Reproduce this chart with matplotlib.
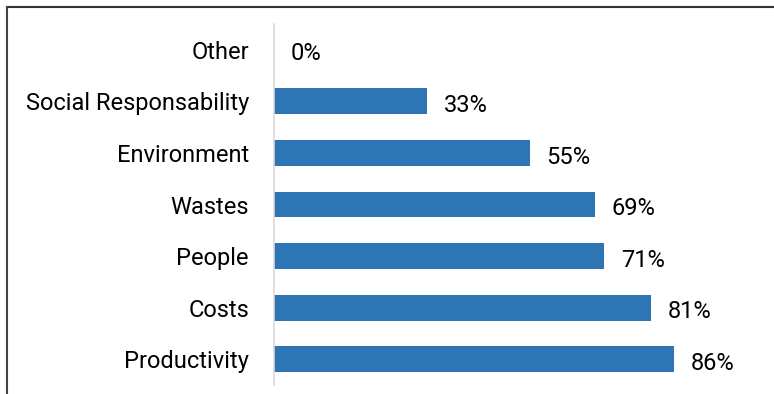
import matplotlib
matplotlib.use("Agg")
import matplotlib.pyplot as plt
from matplotlib.lines import Line2D

# survey results, top row first
categories = ["Other", "Social Responsability", "Environment", "Wastes",
              "People", "Costs", "Productivity"]
percent = [0, 33, 55, 69, 71, 81, 86]

plt.rcParams['font.family'] = ['Roboto', 'DejaVu Sans']

fig = plt.figure(figsize=(7.74, 3.94), dpi=100)
ax = fig.add_axes([274 / 774, 1 - 385 / 394, (739 - 274) / 774, (385 - 24) / 394])

ypos = list(range(len(categories)))
ax.barh(ypos, percent, height=0.5, color="#2E75B6")

for y, v in zip(ypos, percent):
    ax.annotate(f"{v}%", (v, y), xytext=(12, -3), textcoords="offset points",
                ha="left", va="center", fontsize=17, color="black")

ax.set_xlim(0, 100)
ax.set_ylim(len(categories) - 0.5, -0.5)
ax.set_yticks(ypos)
ax.set_yticklabels(categories, fontsize=17)
ax.tick_params(axis="y", length=0, pad=18)
ax.set_xticks([])
for side in ["top", "right", "bottom"]:
    ax.spines[side].set_visible(False)
ax.spines["left"].set_color("#d9d9d9")
ax.spines["left"].set_linewidth(1.2)

# outer chart frame (only top and left edges show)
fig.add_artist(Line2D([7 / 774, 1], [1 - 6.5 / 394, 1 - 6.5 / 394],
                      transform=fig.transFigure, color="#333333", lw=1.5))
fig.add_artist(Line2D([7 / 774, 7 / 774], [0, 1 - 6.5 / 394],
                      transform=fig.transFigure, color="#444444", lw=1.5))

fig.savefig("out.png", dpi=100)
